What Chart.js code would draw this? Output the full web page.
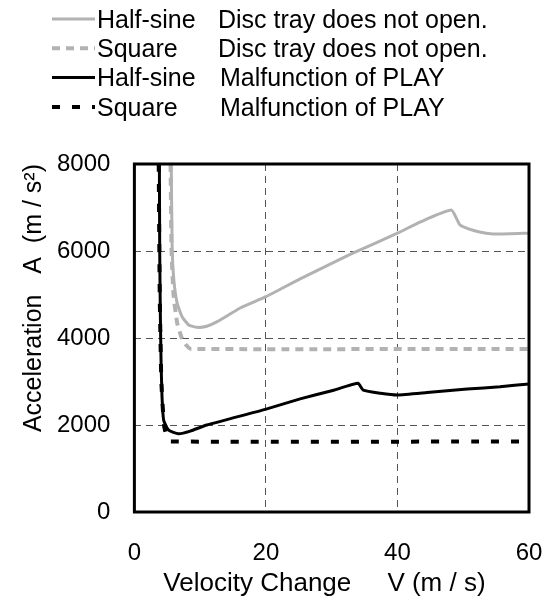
<!DOCTYPE html>
<html>
<head>
<meta charset="utf-8">
<script src="https://cdn.jsdelivr.net/npm/chart.js@4"></script>
<style>
    html, body { margin: 0; padding: 0; background: #fff; }
    #wrap { width: 555px; height: 602px; }
</style>
</head>
<body>
<div id="wrap"><canvas id="chart_area"></canvas></div>
<script>
'use strict';

//Data
var seriesShape = ['Half-sine', 'Square', 'Half-sine', 'Square'];
var seriesFailure = ['Disc tray does not open.', 'Disc tray does not open.', 'Malfunction of PLAY', 'Malfunction of PLAY'];

var vHalfTray = [5.6, 5.75, 6.0, 6.5, 7.25, 8.25, 9.5, 11, 12.6, 16.1, 20, 25.2, 32.8, 40, 43.5, 48.2, 49.5, 51.6, 53.5, 55.6, 60];
var aHalfTray = [8000, 6000, 5330, 4800, 4490, 4300, 4245, 4270, 4375, 4690, 4950, 5360, 5920, 6410, 6670, 6940, 6600, 6470, 6410, 6390, 6410];

var vSquareTray = [5.5, 5.65, 5.95, 6.5, 7.2, 7.8, 8.6, 60];
var aSquareTray = [8000, 6000, 5000, 4350, 4000, 3850, 3750, 3750];

var vHalfPlay = [3.8, 3.85, 3.95, 4.05, 4.2, 4.45, 5.2, 6.7, 8.5, 11, 19.9, 25.2, 30.3, 34, 34.8, 37.4, 40, 44.5, 50.6, 55.6, 60];
var aHalfPlay = [8000, 6000, 4500, 3500, 2650, 2110, 1880, 1800, 1860, 2000, 2360, 2600, 2800, 2960, 2800, 2730, 2690, 2745, 2825, 2880, 2945];

var vSquarePlay = [3.7, 3.85, 4.1, 4.5, 5.0, 5.5, 60];
var aSquarePlay = [8000, 5000, 3000, 2000, 1680, 1620, 1620];

var xTicks = [0, 20, 40, 60];
var yTicks = [0, 2000, 4000, 6000, 8000];

var FONT = '"Liberation Sans", Arial, sans-serif';

function toPoints(vs, as){
    var pts = [];
    for(var i = 0; i < vs.length; i++){
        pts.push({ x: vs[i], y: as[i] });
    }
    return pts;
}

function makeSet(i, vs, as, color, width, dash){
    return {
        label: seriesShape[i] + ' ' + seriesFailure[i],
        data: toPoints(vs, as),
        borderColor: color,
        backgroundColor: color,
        borderWidth: width,
        borderDash: dash,
        pointRadius: 0,
        tension: 0.15,
        showLine: true,
        fill: false
    };
}

//Legend drawn by hand: one row per series, two text columns
var legendPlugin = {
    id: 'legendRows',
    afterDraw: function(chart){
        var ctx = chart.ctx;
        ctx.save();
        ctx.font = '25px ' + FONT;
        ctx.fillStyle = '#000';
        ctx.textBaseline = 'middle';
        chart.data.datasets.forEach(function(ds, i){
            var y = 21 + i * 29.3;
            ctx.beginPath();
            ctx.strokeStyle = ds.borderColor;
            ctx.lineWidth = ds.borderWidth;
            ctx.setLineDash(ds.borderDash || []);
            ctx.moveTo(52, y - 2);
            ctx.lineTo(95, y - 2);
            ctx.stroke();
            ctx.setLineDash([]);
            ctx.fillText(seriesShape[i], 97, y);
            ctx.fillText(seriesFailure[i], i < 2 ? 218 : 220, y);
        });
        ctx.restore();
    }
};

//Thick frame round the plot area
var framePlugin = {
    id: 'frame',
    afterDatasetsDraw: function(chart){
        var a = chart.chartArea;
        var ctx = chart.ctx;
        ctx.save();
        ctx.strokeStyle = '#000';
        ctx.lineWidth = 3;
        ctx.strokeRect(a.left, a.top, a.right - a.left, a.bottom - a.top);
        ctx.restore();
    }
};

function plainNumber(v){
    return String(v);
}

var config = {
    type: 'scatter',
    data: {
        datasets: [
            makeSet(0, vHalfTray, aHalfTray, '#b2b2b2', 3, []),
            makeSet(1, vSquareTray, aSquareTray, '#b2b2b2', 4, [8, 6]),
            makeSet(2, vHalfPlay, aHalfPlay, '#000000', 3, []),
            makeSet(3, vSquarePlay, aSquarePlay, '#000000', 4, [8, 12])
        ]
    },
    options: {
        responsive: true,
        maintainAspectRatio: false,
        animation: false,
        layout: { padding: { top: 164, right: 26, bottom: 3, left: 19 } },
        plugins: {
            legend: { display: false },
            tooltip: { enabled: false }
        },
        scales: {
            x: {
                type: 'linear',
                min: 0,
                max: 60,
                afterBuildTicks: function(axis){
                    axis.ticks = xTicks.map(function(v){ return { value: v }; });
                },
                border: { display: false, dash: [7, 5] },
                //invisible tick marks push the labels away from the frame
                grid: { color: '#555', lineWidth: 1, drawTicks: true, tickLength: 27, tickColor: 'rgba(0,0,0,0)' },
                ticks: { color: '#000', font: { family: FONT, size: 24 }, padding: 0, maxRotation: 0, callback: plainNumber },
                title: {
                    display: true,
                    text: 'Velocity Change     V (m / s)  ',
                    color: '#000',
                    font: { family: FONT, size: 26 },
                    padding: { top: 0, bottom: 0 }
                }
            },
            y: {
                type: 'linear',
                min: 0,
                max: 8000,
                afterBuildTicks: function(axis){
                    axis.ticks = yTicks.map(function(v){ return { value: v }; });
                },
                border: { display: false, dash: [7, 5] },
                grid: { color: '#555', lineWidth: 1, drawTicks: true, tickLength: 24, tickColor: 'rgba(0,0,0,0)' },
                ticks: { color: '#000', font: { family: FONT, size: 24 }, padding: 0, callback: plainNumber },
                title: {
                    display: true,
                    text: 'Acceleration   A  (m / s\u00B2)',
                    align: 'end',
                    color: '#000',
                    font: { family: FONT, size: 25 },
                    padding: { top: 0, bottom: 8 }
                }
            }
        }
    },
    plugins: [legendPlugin, framePlugin]
};

var ctx = document.getElementById('chart_area').getContext('2d');
window.myLine = new Chart(ctx, config);
</script>
</body>
</html>
